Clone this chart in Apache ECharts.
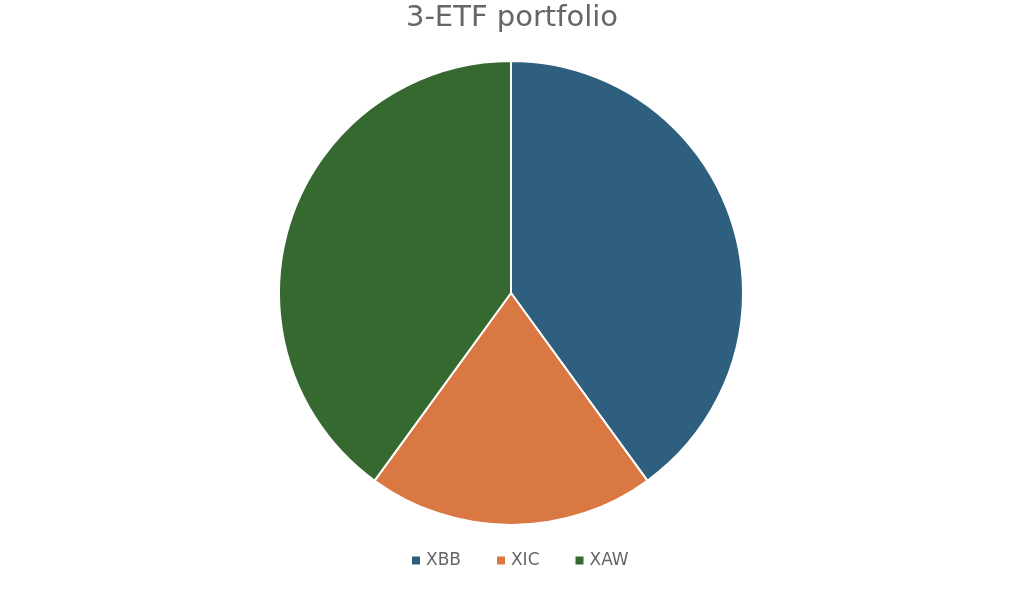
<!DOCTYPE html>
<html><head><meta charset="utf-8">
<script src="https://cdn.jsdelivr.net/npm/echarts@6/dist/echarts.min.js"></script>
<style>html,body{margin:0;padding:0;background:#fff}#c{width:1024px;height:594px}</style>
</head><body><div id="c"></div>
<script>
const categories = ['XBB', 'XIC', 'XAW'];
const values = [40, 20, 40];
const colors = ['#2e5f7f', '#d97842', '#35692f'];
const chart = echarts.init(document.getElementById('c'));
chart.setOption({
  animation: false,
  title: { text: '3-ETF portfolio', left: 'center', top: 4, padding: 0,
    textStyle: { fontFamily: 'DejaVu Sans', fontSize: 29, fontWeight: 'normal', color: '#666666' } },
  legend: { top: 552, left: 410, padding: 0, icon: 'rect', itemWidth: 10, itemHeight: 10, itemGap: 34,
    textStyle: { fontFamily: 'DejaVu Sans', fontSize: 17, color: '#666666' },
    data: categories },
  series: [{
    type: 'pie', center: [511, 293], radius: 232, startAngle: 90, clockwise: true,
    label: { show: false }, labelLine: { show: false },
    itemStyle: { borderColor: '#ffffff', borderWidth: 2 },
    data: categories.map((n, i) => ({ name: n, value: values[i], itemStyle: { color: colors[i] } }))
  }]
});
</script></body></html>
